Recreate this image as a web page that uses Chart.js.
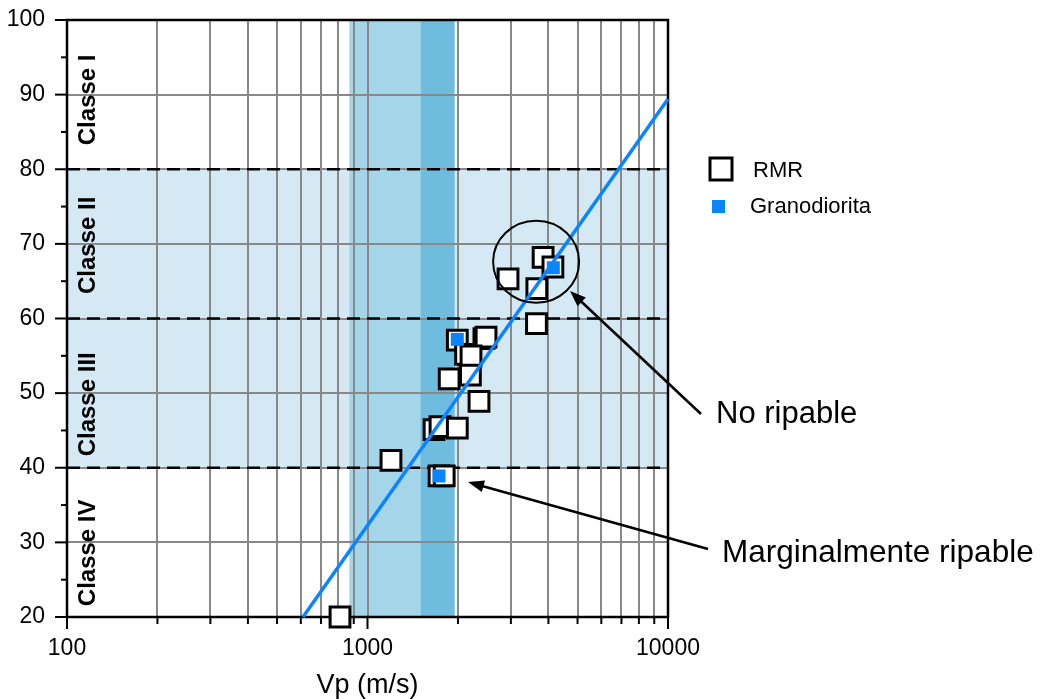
<!DOCTYPE html>
<html lang="es">
<head>
<meta charset="UTF-8" />
<title>RMR vs Vp</title>
<script src="https://cdn.jsdelivr.net/npm/chart.js"></script>
<style>
  body { margin: 0; background: #fff; }
  #chart { width: 1041px; height: 699px; }
</style>
</head>
<body>
<div id="chart"><canvas id="myChart" width="1041" height="699"></canvas></div>
<script>
// RMR points (Vp in m/s)
const rmrVp = [3840, 4140, 2935, 3660, 3650, 1990, 2440, 2480, 2120, 2210, 2200, 1870, 2350, 1665, 1743, 1990, 1197, 1730, 1800, 810];
const rmrValues = [68.2, 66.9, 65.3, 64.0, 59.3, 57.1, 57.3, 57.5, 55.2, 55.0, 52.4, 51.9, 48.9, 45.1, 45.5, 45.3, 41.0, 38.9, 38.9, 20.0];

// granodiorite samples
const graVp = [1990, 4153, 1730];
const graValues = [57.2, 66.8, 38.9];

// fitted line
const fitVp = [610, 10000];
const fitRmr = [20, 89.4];

// axes
const xTickValues = [100, 200, 300, 400, 500, 600, 700, 800, 900, 1000, 2000, 3000, 4000, 5000, 6000, 7000, 8000, 9000, 10000];
const xLabelValues = [100, 1000, 10000];
const yMinorStep = 5;

// rock classes and rippability zones
const classLimits = [40, 60, 80];
const classLabels = ["Classe I", "Classe II", "Classe III", "Classe IV"];
const classLabelY = [89.3, 69.8, 48.5, 28.6];
const shadedRmr = [40, 80];
const rippableVp = [870, 1500];
const marginalVp = [1500, 1950];
const circleCenter = [3640, 67.6];

const FONT = '"Liberation Sans", Arial, Helvetica, sans-serif';
const BLUE = "#0a84ff";

function arrow(ctx, x0, y0, x1, y1) {
    const ang = Math.atan2(y1 - y0, x1 - x0);
    const len = 16, half = 6;
    ctx.beginPath();
    ctx.moveTo(x0, y0);
    ctx.lineTo(x1 - Math.cos(ang) * len * 0.8, y1 - Math.sin(ang) * len * 0.8);
    ctx.stroke();
    ctx.beginPath();
    ctx.moveTo(x1, y1);
    ctx.lineTo(x1 - Math.cos(ang) * len - Math.sin(ang) * half, y1 - Math.sin(ang) * len + Math.cos(ang) * half);
    ctx.lineTo(x1 - Math.cos(ang) * len + Math.sin(ang) * half, y1 - Math.sin(ang) * len - Math.cos(ang) * half);
    ctx.closePath();
    ctx.fill();
}

const overlay = {
    id: "overlay",
    beforeDraw(chart) {
        const { ctx, chartArea: a, scales: { x, y } } = chart;
        ctx.save();
        // class II / III band
        const yTop = y.getPixelForValue(shadedRmr[1]);
        const yBot = y.getPixelForValue(shadedRmr[0]);
        ctx.fillStyle = "#d4e9f3";
        ctx.fillRect(a.left, yTop, a.width, yBot - yTop);
        // rippability bands
        let x0 = x.getPixelForValue(rippableVp[0]);
        let x1 = x.getPixelForValue(rippableVp[1]);
        ctx.fillStyle = "#a5d5e8";
        ctx.fillRect(x0, a.top, x1 - x0, a.height);
        x0 = x.getPixelForValue(marginalVp[0]);
        x1 = x.getPixelForValue(marginalVp[1]);
        ctx.fillStyle = "#6ebddf";
        ctx.fillRect(x0, a.top, x1 - x0, a.height);
        ctx.restore();
    },
    beforeDatasetsDraw(chart) {
        const { ctx, chartArea: a, scales: { x, y } } = chart;
        ctx.save();
        // class limits
        ctx.strokeStyle = "#000";
        ctx.lineWidth = 2.5;
        ctx.setLineDash([13, 7]);
        classLimits.forEach((v) => {
            const py = y.getPixelForValue(v);
            ctx.beginPath();
            ctx.moveTo(a.left, py);
            ctx.lineTo(a.right, py);
            ctx.stroke();
        });
        ctx.setLineDash([]);

        // class labels, rotated
        ctx.fillStyle = "#000";
        ctx.font = "bold 24px " + FONT;
        ctx.textAlign = "center";
        ctx.textBaseline = "middle";
        classLabels.forEach((t, i) => {
            ctx.save();
            ctx.translate(a.left + 21, y.getPixelForValue(classLabelY[i]));
            ctx.rotate(-Math.PI / 2);
            ctx.fillText(t, 0, 0);
            ctx.restore();
        });

        // frame
        ctx.lineWidth = 2.5;
        ctx.strokeRect(a.left, a.top, a.width, a.height);

        // tick marks
        ctx.lineWidth = 2;
        for (let v = y.min; v <= y.max; v += yMinorStep) {
            const py = y.getPixelForValue(v);
            const len = v % 10 === 0 ? 12 : 6;
            ctx.beginPath();
            ctx.moveTo(a.left - len, py);
            ctx.lineTo(a.left, py);
            ctx.stroke();
        }
        xTickValues.forEach((v) => {
            const px = x.getPixelForValue(v);
            const len = xLabelValues.includes(v) ? 12 : 7;
            ctx.beginPath();
            ctx.moveTo(px, a.bottom);
            ctx.lineTo(px, a.bottom + len);
            ctx.stroke();
        });
        ctx.restore();
    },
    afterDatasetsDraw(chart) {
        const { ctx, scales: { x, y } } = chart;
        ctx.save();
        // circle around the high RMR cluster
        ctx.strokeStyle = "#000";
        ctx.lineWidth = 2;
        ctx.beginPath();
        ctx.ellipse(x.getPixelForValue(circleCenter[0]), y.getPixelForValue(circleCenter[1]), 43, 41, 0, 0, Math.PI * 2);
        ctx.stroke();

        // arrows and notes
        ctx.fillStyle = "#000";
        ctx.lineWidth = 2.5;
        arrow(ctx, 701, 414, 570, 291);
        arrow(ctx, 708, 549, 468, 482);
        ctx.font = "31px " + FONT;
        ctx.textAlign = "left";
        ctx.textBaseline = "alphabetic";
        ctx.fillText("No ripable", 716, 423);
        ctx.font = "31.5px " + FONT;
        ctx.fillText("Marginalmente ripable", 722, 562);

        // legend
        ctx.fillStyle = "#fff";
        ctx.fillRect(710, 158, 22, 22);
        ctx.lineWidth = 3;
        ctx.strokeRect(710, 158, 22, 22);
        ctx.fillStyle = BLUE;
        ctx.fillRect(712, 200, 13, 13);
        ctx.fillStyle = "#000";
        ctx.font = "22px " + FONT;
        ctx.fillText("RMR", 753, 177);
        ctx.fillText("Granodiorita", 750, 213);
        ctx.restore();
    }
};

const ctx = document.getElementById("myChart").getContext("2d");
const config = {
    type: "scatter",
    data: {
        datasets: [
            {
                label: "Granodiorita",
                data: graVp.map((v, i) => ({ x: v, y: graValues[i] })),
                pointStyle: "rect",
                pointRadius: 9.2,
                backgroundColor: BLUE,
                borderWidth: 0,
                clip: false,
                order: 0,
            },
            {
                label: "Ajuste",
                data: fitVp.map((v, i) => ({ x: v, y: fitRmr[i] })),
                showLine: true,
                borderColor: BLUE,
                borderWidth: 3.5,
                pointRadius: 0,
                fill: false,
                clip: false,
                order: 1,
            },
            {
                label: "RMR",
                data: rmrVp.map((v, i) => ({ x: v, y: rmrValues[i] })),
                pointStyle: "rect",
                pointRadius: 14,
                backgroundColor: "#fff",
                borderColor: "#000",
                borderWidth: 3,
                clip: false,
                order: 2,
            },
        ],
    },
    options: {
        responsive: false,
        animation: false,
        devicePixelRatio: 1,
        layout: { padding: { left: 0, right: 373, top: 20, bottom: 0 } },
        plugins: {
            legend: { display: false },
            tooltip: { enabled: false },
        },
        scales: {
            x: {
                type: "logarithmic",
                min: 100,
                max: 10000,
                afterBuildTicks: (s) => {
                    s.ticks = xTickValues.map((v) => ({ value: v }));
                },
                afterFit: (s) => {
                    s.height = 82;
                    s.paddingLeft = 0;
                    s.paddingRight = 0;
                },
                grid: { color: "#888", lineWidth: 2, drawTicks: false },
                border: { display: false },
                ticks: {
                    autoSkip: false,
                    maxRotation: 0,
                    padding: 18,
                    color: "#000",
                    font: { family: FONT, size: 23 },
                    callback: (v) => (xLabelValues.includes(v) ? String(v) : ""),
                },
                title: {
                    display: true,
                    text: "Vp (m/s)",
                    color: "#000",
                    padding: 0,
                    font: { family: FONT, size: 27, lineHeight: 1 },
                },
            },
            y: {
                min: 20,
                max: 100,
                afterFit: (s) => {
                    s.width = 67;
                    s.paddingTop = 0;
                    s.paddingBottom = 0;
                },
                grid: { color: "#888", lineWidth: 2, drawTicks: false },
                border: { display: false },
                ticks: {
                    stepSize: 10,
                    padding: 22,
                    color: "#000",
                    font: { family: FONT, size: 23 },
                },
            },
        },
    },
    plugins: [overlay],
};
const myChart = new Chart(ctx, config);
</script>
</body>
</html>
